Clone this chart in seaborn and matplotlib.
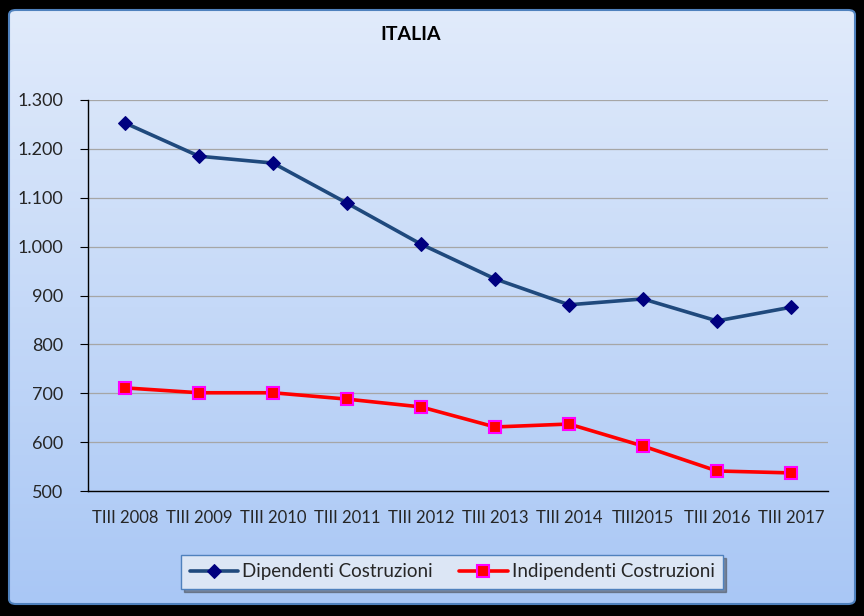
import numpy as np
import pandas as pd
import matplotlib
matplotlib.use('Agg')
import matplotlib.pyplot as plt
from matplotlib.patches import FancyBboxPatch
from matplotlib.ticker import FixedLocator
import seaborn as sns

# --- data ---
periodi = ['TIII 2008', 'TIII 2009', 'TIII 2010', 'TIII 2011', 'TIII 2012',
           'TIII 2013', 'TIII 2014', 'TIII2015', 'TIII 2016', 'TIII 2017']
dipendenti = [1253, 1185, 1171, 1089, 1005, 934, 881, 893, 848, 876]
indipendenti = [711, 701, 701, 688, 672, 631, 637, 592, 541, 537]
y_ticks = [500, 600, 700, 800, 900, 1000, 1100, 1200, 1300]

df = pd.DataFrame({'periodo': periodi, 'Dipendenti Costruzioni': dipendenti,
                   'Indipendenti Costruzioni': indipendenti})
df['x'] = np.arange(len(periodi))

sns.set_style('white')
plt.rcParams['font.family'] = ['Lato', 'DejaVu Sans']

fig = plt.figure(figsize=(8.64, 6.16), dpi=100, facecolor='black')

# background panel with vertical gradient
bg = fig.add_axes([0, 0, 1, 1], zorder=0)
bg.set_xlim(0, 1)
bg.set_ylim(0, 1)
bg.axis('off')
grad = np.linspace(0, 1, 256).reshape(-1, 1)
top = np.array([0xe1, 0xeb, 0xfb]) / 255
bot = np.array([0xa9, 0xc7, 0xf5]) / 255
img = top * (1 - grad[..., None]) + bot * grad[..., None]
panel = FancyBboxPatch((9 / 864, 12 / 616), 846 / 864, 594 / 616,
                       boxstyle='round,pad=0,rounding_size=0.008',
                       transform=bg.transAxes, facecolor='none',
                       edgecolor='#4f81bd', linewidth=1.5)
bg.add_patch(panel)
im = bg.imshow(img, extent=[9 / 864, 855 / 864, 12 / 616, 606 / 616],
               aspect='auto', zorder=0)
im.set_clip_path(panel)

ax = fig.add_axes([88 / 864, 1 - 491 / 616, 740 / 864, 391 / 616], zorder=1)
ax.patch.set_alpha(0)

sns.lineplot(data=df, x='x', y='Dipendenti Costruzioni', ax=ax, color='#1f497d',
             linewidth=2.6, marker='D', markersize=7, markerfacecolor='#000080',
             markeredgecolor='#000080', label='Dipendenti Costruzioni')
sns.lineplot(data=df, x='x', y='Indipendenti Costruzioni', ax=ax, color='#ff0000',
             linewidth=2.6, marker='s', markersize=8, markerfacecolor='#ff0000',
             markeredgecolor='#ff00ff', markeredgewidth=1.5,
             label='Indipendenti Costruzioni')

ax.set_xlim(-0.5, len(periodi) - 0.5)
ax.set_ylim(500, 1300)
ax.set_yticks(y_ticks)
ax.set_yticklabels([f'{v:,}'.replace(',', '.') for v in y_ticks], fontsize=13)
ax.set_xticks(df['x'])
ax.set_xticklabels(periodi, fontsize=12)
ax.xaxis.set_minor_locator(FixedLocator(np.arange(-0.5, len(periodi), 1.0)))
ax.tick_params(axis='x', which='major', length=0, pad=14)
ax.tick_params(axis='x', which='minor', length=6, color='black', direction='out')
ax.tick_params(axis='y', length=6, color='black', direction='out', pad=12, left=True)
ax.set_xlabel('')
ax.set_ylabel('')
ax.grid(axis='y', color='#a6a6a6', linewidth=0.9)
ax.set_axisbelow(True)
for s in ['top', 'right']:
    ax.spines[s].set_visible(False)
for s in ['left', 'bottom']:
    ax.spines[s].set_color('black')
    ax.spines[s].set_linewidth(1.0)

fig.text(411 / 864, 1 - 35 / 616, 'ITALIA', ha='center', va='center',
         fontsize=14, fontweight='bold', color='black')

leg = ax.legend(loc='center', bbox_to_anchor=(452 / 864, 1 - 572 / 616),
                bbox_transform=fig.transFigure, ncol=2, fontsize=13.5,
                frameon=True, fancybox=False, shadow=True, handlelength=2.6,
                handletextpad=0.2, columnspacing=1.4, borderpad=0.45)
leg.get_frame().set_facecolor('#dce6f5')
leg.get_frame().set_edgecolor('#4f81bd')
leg.get_frame().set_alpha(1)

fig.savefig('out.png', dpi=100, facecolor='black')
